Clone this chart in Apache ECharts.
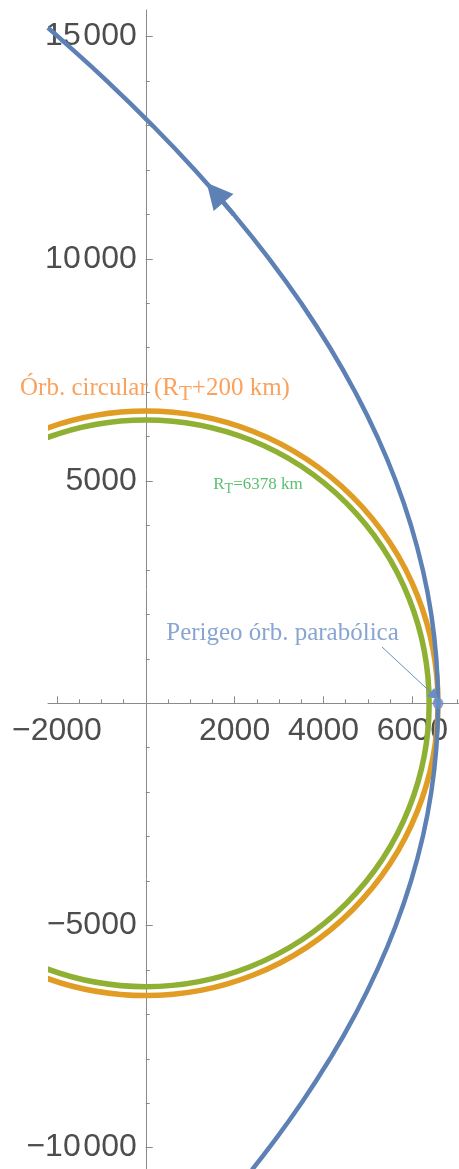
<!DOCTYPE html>
<html>
<head>
<meta charset="utf-8">
<script src="https://cdn.jsdelivr.net/npm/echarts@6/dist/echarts.min.js"></script>
<style>
html,body{margin:0;padding:0;background:#fff;}
#chart{width:459px;height:1169px;}
</style>
</head>
<body>
<div id="chart"></div>
<script>
// ---- data ----
const earthRadius = 6378;            // R_T (km)
const circularOrbitRadius = 6578;    // R_T + 200 km
const circleRadii = [earthRadius, circularOrbitRadius];
// parabolic orbit (perigee at 6578 km)
const parabolaY = [-10500,-10000,-9000,-8000,-7000,-6000,-5000,-4000,-3000,-2000,-1000,0,1000,2000,3000,4000,5000,6000,7000,8000,9000,10000,11000,12000,13000,14000,15000,15200];
const parabolaX = [2388,2778,3500,4146,4716,5210,5628,5970,6236,6426,6540,6578,6540,6426,6236,5970,5628,5210,4716,4146,3500,2778,1979,1105,155,-871,-1973,-2203];
const perigee = [6578, 0];
const directionArrow = [[1979, 11000], [1561, 11490]];
const perigeePointer = [[5317, 1267], [6500, 166]];
const xMajorTicks = [-2000, 2000, 4000, 6000];
const xMinorTicks = [-2000,-1500,-1000,-500,500,1000,1500,2000,2500,3000,3500,4000,4500,5000,5500,6000,6500,7000];
const yMajorTicks = [-10000, -5000, 5000, 10000, 15000];
const yMinorTicks = [-10000,-9000,-8000,-7000,-6000,-5000,-4000,-3000,-2000,-1000,1000,2000,3000,4000,5000,6000,7000,8000,9000,10000,11000,12000,13000,14000,15000];
const annotations = [
  {name: 'circ', pos: [208, 7095]},
  {name: 'earth', pos: [2526, 4912]},
  {name: 'perigee', pos: [3078, 1571]}
];

// ---- chart ----
const chart = echarts.init(document.getElementById('chart'));
const axisGray = '#8a8a8a';
function fmt(v) {
  const a = Math.abs(v);
  let s = String(a);
  if (a >= 10000) s = s.replace(/(\d)(?=(\d{3})+$)/, '$1\u200A');
  return (v < 0 ? '\u2212' : '') + s;
}
const labelStyle = {color: '#4d4d4d', fontSize: 32, fontFamily: 'Liberation Sans, Arial, sans-serif'};
const xRange = {min: -2200, max: 7050};
const yRange = {min: -10480, max: 15600};
const gridBox = {left: 48, right: 0, top: 10, bottom: 0};

function circleItem(color) {
  return function (params, api) {
    const c = api.coord([api.value(0), api.value(1)]);
    const r = api.size([api.value(2), 0])[0];
    const cs = params.coordSys;
    return {
      type: 'group',
      clipPath: {type: 'rect', shape: {x: cs.x, y: cs.y, width: cs.width, height: cs.height}},
      children: [{
        type: 'circle',
        shape: {cx: c[0], cy: c[1], r: r},
        style: {fill: 'none', stroke: color, lineWidth: 5.5}
      }]
    };
  };
}

const serif = 'Liberation Serif, Times New Roman, serif';

chart.setOption({
  animation: false,
  backgroundColor: '#fff',
  grid: Object.assign({containLabel: false, outerBoundsMode: 'none'}, gridBox),
  xAxis: [
    Object.assign({type: 'value', position: 'bottom', offset: 0,
      axisLine: {show: true, onZero: false, lineStyle: {color: axisGray, width: 1}},
      axisTick: {show: true, inside: true, length: 7, customValues: xMajorTicks, lineStyle: {color: axisGray}},
      axisLabel: Object.assign({show: true, margin: 12, customValues: xMajorTicks, formatter: fmt}, labelStyle),
      splitLine: {show: false}}, xRange),
    Object.assign({type: 'value', position: 'bottom', offset: 0,
      axisLine: {show: false, onZero: false},
      axisTick: {show: true, inside: true, length: 4, customValues: xMinorTicks, lineStyle: {color: axisGray}},
      axisLabel: {show: false},
      splitLine: {show: false}}, xRange)
  ],
  yAxis: [
    Object.assign({type: 'value', position: 'left', offset: 0,
      axisLine: {show: true, onZero: false, lineStyle: {color: axisGray, width: 1}},
      axisTick: {show: true, inside: true, length: 7, customValues: yMajorTicks, lineStyle: {color: axisGray}},
      axisLabel: Object.assign({show: true, margin: 9, customValues: yMajorTicks, formatter: fmt}, labelStyle),
      splitLine: {show: false}}, yRange),
    Object.assign({type: 'value', position: 'left', offset: 0,
      axisLine: {show: false, onZero: false},
      axisTick: {show: true, inside: true, length: 4, customValues: yMinorTicks, lineStyle: {color: axisGray}},
      axisLabel: {show: false},
      splitLine: {show: false}}, yRange)
  ],
  series: [
    {type: 'custom', name: 'Tierra', renderItem: circleItem('#8FB032'), data: [[0, 0, circleRadii[0]]], z: 2, silent: true},
    {type: 'custom', name: 'Órb. circular', renderItem: circleItem('#E19C24'), data: [[0, 0, circleRadii[1]]], z: 3, silent: true},
    {type: 'line', name: 'Órb. parabólica', data: parabolaX.map((x, i) => [x, parabolaY[i]]),
      showSymbol: false, symbol: 'none', smooth: true, clip: true, lineStyle: {color: '#5E81B5', width: 4.5}, z: 4, silent: true},
    {type: 'lines', coordinateSystem: 'cartesian2d', data: [{coords: directionArrow}],
      symbol: ['none', 'triangle'], symbolSize: [32, 26],
      lineStyle: {color: '#5E81B5', width: 4.5, opacity: 1}, z: 5, silent: true},
    {type: 'lines', coordinateSystem: 'cartesian2d', data: [{coords: perigeePointer}],
      symbol: ['none', 'triangle'], symbolSize: [9, 11],
      lineStyle: {color: '#6A8DC6', width: 1, opacity: 1}, z: 6, silent: true},
    {type: 'scatter', data: [perigee], symbol: 'circle', symbolSize: 11,
      itemStyle: {color: '#6A8DC6'}, z: 7, silent: true},
    {type: 'scatter', symbolSize: 0, z: 8, silent: true,
      data: annotations.map(a => ({name: a.name, value: a.pos})),
      label: {
        show: true, position: 'inside', align: 'center', verticalAlign: 'middle',
        formatter: function (p) {
          if (p.name === 'circ') return '{o|Órb. circular (R}{os|T}{o|+200 km)}';
          if (p.name === 'earth') return '{g|R}{gs|T}{g|=6378 km}';
          return '{b|Perigeo órb. parabólica}';
        },
        rich: {
          o: {color: '#F98A35', fontSize: 25, fontFamily: serif},
          os: {color: '#F98A35', fontSize: 21, fontFamily: serif, padding: [14, 0, 0, 0]},
          g: {color: '#2EAF4B', fontSize: 17, fontFamily: serif},
          gs: {color: '#2EAF4B', fontSize: 14, fontFamily: serif, padding: [9, 0, 0, 0]},
          b: {color: '#6A8DC6', fontSize: 25, fontFamily: serif}
        }
      }
    }
  ]
});

// move the axes so they cross at the origin, using the library's own scales
const x0 = chart.convertToPixel({xAxisIndex: 0}, 0);
const y0 = chart.convertToPixel({yAxisIndex: 0}, 0);
const yOff = -(x0 - gridBox.left);
const xOff = -((1169 - gridBox.bottom) - y0);
chart.setOption({
  xAxis: [{offset: xOff}, {offset: xOff}],
  yAxis: [{offset: yOff}, {offset: yOff}]
});
</script>
</body>
</html>
